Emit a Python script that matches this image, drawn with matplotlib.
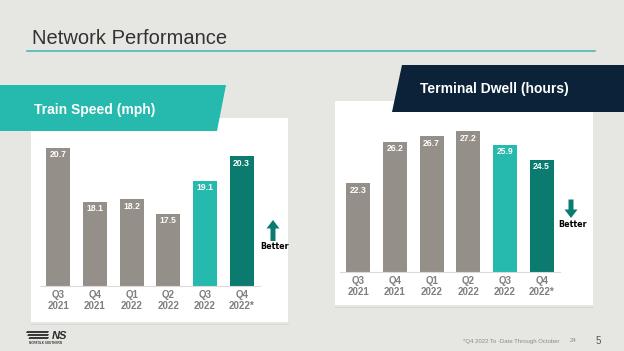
import matplotlib
matplotlib.use('Agg')
import matplotlib.pyplot as plt
from matplotlib.patches import Polygon, Rectangle

# data
quarters = ['Q3\n2021', 'Q4\n2021', 'Q1\n2022', 'Q2\n2022', 'Q3\n2022', 'Q4\n2022*']
train_speed = [20.7, 18.1, 18.2, 17.5, 19.1, 20.3]
terminal_dwell = [22.3, 26.2, 26.7, 27.2, 25.9, 24.5]

BG = '#e6e6e2'
GRAY = '#958f8a'
TEAL = '#26b9ae'
DARK_TEAL = '#0b7a6f'
NAVY = '#0c2238'
bar_colors = [GRAY, GRAY, GRAY, GRAY, TEAL, DARK_TEAL]

W, H = 624, 351
plt.rcParams['font.family'] = ['Liberation Sans', 'DejaVu Sans']


def px_rect(x0, y0, x1, y1):
    return [x0 / W, 1 - y1 / H, (x1 - x0) / W, (y1 - y0) / H]


fig = plt.figure(figsize=(W / 100, H / 100), dpi=100, facecolor=BG)

# slide decoration layer in pixel coordinates
bg = fig.add_axes([0, 0, 1, 1], zorder=0)
bg.set_xlim(0, W)
bg.set_ylim(H, 0)
bg.axis('off')

bg.text(32, 38, 'Network Performance', fontsize=14.5, color='#333333',
        va='center', ha='left')
bg.plot([27, 595], [50.5, 50.5], color='#3fb5ab', lw=1.1)

# white panels
bg.add_patch(Rectangle((31, 118), 257, 204, facecolor='white', edgecolor='none'))
bg.add_patch(Rectangle((335, 101), 258, 204, facecolor='white', edgecolor='none'))
bg.plot([335, 593], [306.5, 306.5], color='#d8d8d4', lw=0.8)
bg.plot([31, 288], [323.5, 323.5], color='#d8d8d4', lw=0.8)

# banners
bg.add_patch(Polygon([(0, 85), (226, 85), (217, 131), (0, 131)],
                     closed=True, facecolor=TEAL, edgecolor='none'))
bg.text(34, 110, 'Train Speed (mph)', fontsize=10, fontweight='bold',
        color='white', va='center', ha='left')
bg.add_patch(Polygon([(402, 65), (624, 65), (624, 112), (392, 112)],
                     closed=True, facecolor=NAVY, edgecolor='none'))
bg.text(420, 89, 'Terminal Dwell (hours)', fontsize=10, fontweight='bold',
        color='white', va='center', ha='left')

# "Better" arrows
bg.add_patch(Polygon([(273, 220), (279.5, 228.5), (275.5, 228.5), (275.5, 241),
                      (270.5, 241), (270.5, 228.5), (266.5, 228.5)],
                     closed=True, facecolor=DARK_TEAL, edgecolor='none'))
bg.text(275, 246.5, 'Better', family='DejaVu Sans', fontsize=5.8,
        fontweight='bold', color='black', ha='center', va='center')
bg.add_patch(Polygon([(571, 218), (577.5, 209.5), (573.5, 209.5), (573.5, 199.5),
                      (568.5, 199.5), (568.5, 209.5), (564.5, 209.5)],
                     closed=True, facecolor=DARK_TEAL, edgecolor='none'))
bg.text(573, 224.5, 'Better', family='DejaVu Sans', fontsize=5.8,
        fontweight='bold', color='black', ha='center', va='center')

# footer
bg.text(463, 341, '*Q4 2022 To -Date Through October', fontsize=4.3,
        color='#8a8a8a', ha='left', va='center')
bg.text(570, 341, '24', fontsize=4.3, color='#8a8a8a', ha='left', va='center')
bg.text(598, 341, '5', fontsize=7, color='#555555', ha='center', va='center')

# logo
for dy in (0, 3, 6):
    bg.add_patch(Polygon([(27 + dy * 0.4, 331 + dy), (49, 331 + dy),
                          (48, 333 + dy), (26 + dy * 0.4, 333 + dy)],
                         closed=True, facecolor='#3a3a3a', edgecolor='none'))
bg.text(59, 336, 'NS', fontsize=8, fontweight='bold', style='italic',
        color='#2a2a2a', ha='center', va='center')
bg.text(45, 342.5, 'NORFOLK SOUTHERN', fontsize=2.2, fontweight='bold',
        color='#333333', ha='center', va='center')


def draw_bars(rect, values, ymax):
    ax = fig.add_axes(rect, zorder=1)
    ax.patch.set_alpha(0)
    x = range(len(values))
    ax.bar(x, values, width=0.655, color=bar_colors)
    for i, v in enumerate(values):
        ax.annotate(f'{v:.1f}', (i, v), xytext=(0, -5), textcoords='offset points',
                    ha='center', va='center', color='white', fontsize=6.2,
                    fontweight='bold')
    ax.set_xlim(-0.5, len(values) - 0.5)
    ax.set_ylim(14, ymax)
    ax.set_yticks([])
    ax.set_xticks(list(x), quarters)
    ax.tick_params(axis='x', length=0, pad=3, labelsize=7, labelcolor='#7f7f7f')
    for lbl in ax.get_xticklabels():
        lbl.set_fontweight('bold')
        lbl.set_linespacing(1.15)
    for side in ('top', 'left', 'right'):
        ax.spines[side].set_visible(False)
    ax.spines['bottom'].set_color('#dadada')
    ax.spines['bottom'].set_linewidth(0.8)
    return ax


draw_bars(px_rect(40, 141.8, 260, 286), train_speed, 21)
draw_bars(px_rect(340, 122.6, 560, 272), terminal_dwell, 28)

fig.savefig('out.png', dpi=100, facecolor=BG)
